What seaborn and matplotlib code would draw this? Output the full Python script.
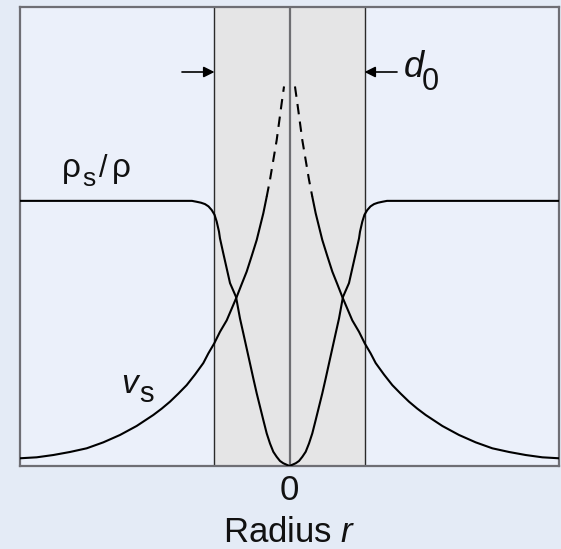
import matplotlib
matplotlib.use("Agg")
import matplotlib.pyplot as plt
import seaborn as sns

# Radius in units of the core half-width (d0/2 = 1); curves are symmetric in r
rho_r = [3.593, 1.37, 1.30, 1.237, 1.18, 1.127, 1.08, 1.037, 1.00, 0.971, 0.94,
         0.927, 0.883, 0.793, 0.713, 0.66, 0.616, 0.527, 0.483, 0.437, 0.349,
         0.304, 0.26, 0.216, 0.171, 0.127, 0.083, 0.0]
rho_val = [0.577, 0.577, 0.577, 0.575, 0.573, 0.570, 0.565, 0.557, 0.547, 0.532, 0.51,
           0.4955, 0.463, 0.398, 0.368, 0.321, 0.289, 0.2235, 0.191, 0.158, 0.100,
           0.071, 0.049, 0.031, 0.020, 0.011, 0.006, 0.0]

vs_r = [3.593, 3.371, 3.149, 2.927, 2.704, 2.482, 2.26, 2.038, 1.816, 1.704, 1.593,
        1.482, 1.371, 1.260, 1.149, 1.082, 1.003, 0.927, 0.837, 0.704, 0.637,
        0.571, 0.504, 0.437, 0.393, 0.349, 0.304]
vs_val = [0.0168, 0.0189, 0.0239, 0.0305, 0.0385, 0.0515, 0.0675, 0.0871, 0.111, 0.1248,
          0.140, 0.1575, 0.176, 0.199, 0.224, 0.245, 0.267, 0.292, 0.317, 0.368, 0.396,
          0.423, 0.457, 0.492, 0.521, 0.550, 0.586]

# extrapolated velocity inside the core
vs_core_r = [0.304, 0.26, 0.171, 0.104, 0.073]
vs_core_val = [0.586, 0.623, 0.709, 0.790, 0.826]

core_half = 1.0
x_tick_labels = ["0"]

sns.set_style("white")
plt.rcParams["font.family"] = ["Liberation Sans", "DejaVu Sans"]
plt.rcParams["mathtext.fontset"] = "custom"
plt.rcParams["mathtext.it"] = "Liberation Sans:italic"
plt.rcParams["mathtext.rm"] = "Liberation Sans"

W, H = 561, 549
fig = plt.figure(figsize=(W / 100, H / 100), dpi=100, facecolor="#e4ebf6")
ax = fig.add_axes([20 / W, 1 - 466 / H, 539 / W, 459.5 / H])
ax.set_facecolor("#ebf0fa")

ax.set_xlim(-3.593, 3.593)
ax.set_ylim(0, 1)

# vortex core band
ax.axvspan(-core_half, core_half, color="#e5e5e6", zorder=0, lw=0)
for s in (-1, 1):
    ax.axvline(s * core_half, color="#2a2a2a", lw=1.0, zorder=1)
ax.axvline(0, color="#6e6e72", lw=1.6, zorder=1)

curve_kw = dict(color="black", lw=1.5, ax=ax, legend=False, zorder=3)
for s in (-1, 1):
    sns.lineplot(x=[s * r for r in rho_r], y=rho_val, **curve_kw)
    sns.lineplot(x=[s * r for r in vs_r], y=vs_val, **curve_kw)
    line = sns.lineplot(x=[s * r for r in vs_core_r], y=vs_core_val, **curve_kw)
    line.lines[-1].set_dashes([5, 3.5])

for sp in ax.spines.values():
    sp.set_color("#6e6e74")
    sp.set_linewidth(1.6)

ax.set_yticks([])
ax.set_xticks([0])
ax.set_xticklabels(x_tick_labels, fontsize=25, color="#111111")
ax.tick_params(axis="x", length=0, pad=6)
ax.set_xlabel("Radius $r$", fontsize=25, labelpad=6, color="#111111")


def px(xp, yp):
    return ((xp - 289.5) / 75.0, (466 - yp) / 459.5)


# core width arrows
ya = px(0, 72)[1]
arrow = dict(arrowstyle="-|>", color="black", lw=1.2, mutation_scale=16,
             shrinkA=0, shrinkB=0)
ax.annotate("", xy=(-core_half, ya), xytext=(px(182, 0)[0], ya), arrowprops=arrow)
ax.annotate("", xy=(core_half, ya), xytext=(px(397, 0)[0], ya), arrowprops=arrow)

# labels
tk = dict(color="#111111", va="baseline", ha="left")
ax.text(*px(404, 77), "d", fontsize=26, style="italic", **tk)
ax.text(*px(422, 90), "0", fontsize=22, **tk)

ax.text(*px(62, 177), "ρ", fontsize=24, **tk)
ax.text(*px(82, 186), "s", fontsize=19, **tk)
ax.text(*px(99, 177), "/", fontsize=22, **tk)
ax.text(*px(112, 177), "ρ", fontsize=24, **tk)

ax.text(*px(121, 393), "v", fontsize=24, style="italic", **tk)
ax.text(*px(139, 402), "s", fontsize=21, **tk)

fig.savefig("out.png", dpi=100, facecolor=fig.get_facecolor())
